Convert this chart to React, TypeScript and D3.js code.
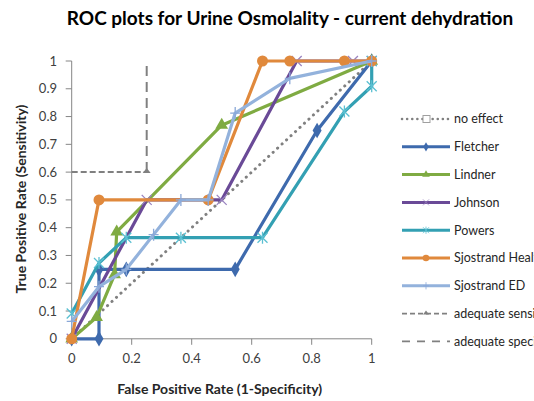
import * as d3 from 'd3';
import React from 'react';

// ROC curves: false positive rate (x) vs true positive rate (y)
const fletcherX = [0, 0.091, 0.091, 0.182, 0.545, 0.818, 1];
const fletcherY = [0, 0, 0.25, 0.25, 0.25, 0.75, 1];

const lindnerX = [0, 0.083, 0.143, 0.15, 0.5, 1];
const lindnerY = [0, 0.077, 0.231, 0.385, 0.769, 1];

const johnsonX = [0, 0.25, 0.5, 0.75, 0.9375, 1];
const johnsonY = [0, 0.5, 0.5, 1, 1, 1];

const powersX = [0, 0.091, 0.182, 0.364, 0.636, 0.909, 1, 1];
const powersY = [0.091, 0.273, 0.364, 0.364, 0.364, 0.818, 0.909, 1];

const sjHealthyX = [0, 0.091, 0.455, 0.636, 0.727, 0.909, 1];
const sjHealthyY = [0, 0.5, 0.5, 1, 1, 1, 1];

const sjEdX = [0, 0.091, 0.182, 0.273, 0.364, 0.455, 0.545, 0.727, 1];
const sjEdY = [0.0625, 0.1875, 0.25, 0.375, 0.5, 0.5, 0.8125, 0.9375, 1];

const noEffectX = [0, 1];
const noEffectY = [0, 1];

const adequateSensX = [0, 0.25];
const adequateSensY = [0.6, 0.6];
const adequateSpecX = [0.25, 0.25];
const adequateSpecY = [0.6, 1];

const ticks = [0, 0.2, 0.4, 0.6, 0.8, 1];
const yTicks = [0, 0.1, 0.2, 0.3, 0.4, 0.5, 0.6, 0.7, 0.8, 0.9, 1];

const series = [
  { name: 'Fletcher', xs: fletcherX, ys: fletcherY, color: '#3e6aad', mark: 'diamond' },
  { name: 'Lindner', xs: lindnerX, ys: lindnerY, color: '#7fab42', mark: 'triangle' },
  { name: 'Johnson', xs: johnsonX, ys: johnsonY, color: '#6a4a97', mark: 'x' },
  { name: 'Powers', xs: powersX, ys: powersY, color: '#33a0b3', mark: 'star' },
  { name: 'Sjostrand Healthy', xs: sjHealthyX, ys: sjHealthyY, color: '#e0893c', mark: 'circle' },
  { name: 'Sjostrand ED', xs: sjEdX, ys: sjEdY, color: '#93b2dc', mark: 'plus' },
];

const font = 'Lato, "Open Sans", sans-serif';
const grey = '#808080';

function Marker({ kind, color, x, y }: { kind: string; color: string; x: number; y: number }) {
  const t = `translate(${x},${y})`;
  if (kind === 'diamond') {
    return <path transform={t} d={d3.symbol().type(d3.symbolDiamond).size(70)()!} fill={color} />;
  }
  if (kind === 'triangle') {
    return <path transform={t} d={d3.symbol().type(d3.symbolTriangle).size(70)()!} fill={color} />;
  }
  if (kind === 'circle') {
    return <circle cx={x} cy={y} r={5.5} fill={color} />;
  }
  if (kind === 'x') {
    return <path transform={t} d="M-5,-5L5,5M-5,5L5,-5" stroke="#9a84c0" strokeWidth={1.3} fill="none" />;
  }
  if (kind === 'star') {
    return <path transform={t} d="M-5,-5L5,5M-5,5L5,-5M0,-6L0,6" stroke="#5bc0d2" strokeWidth={1.3} fill="none" />;
  }
  if (kind === 'plus') {
    return <path transform={t} d="M-5,0L5,0M0,-6L0,6" stroke="#8aa8d8" strokeWidth={1.3} fill="none" />;
  }
  return null;
}

export default function App() {
  const x = d3.scaleLinear().domain([0, 1]).range([71.7, 371.7]);
  const y = d3.scaleLinear().domain([0, 1]).range([338.8, 61]);
  const line = d3.line<[number, number]>().x(d => x(d[0])).y(d => y(d[1]));
  const pts = (xs: number[], ys: number[]) => xs.map((v, i) => [v, ys[i]] as [number, number]);

  const legendRows = ['no effect', ...series.map(s => s.name), 'adequate sensitivity', 'adequate specificity'];
  const legendY = (i: number) => 119 + i * 27.8;

  return (
    <div style={{ position: 'absolute', left: 0, top: 0 }}>
      <svg width={534} height={401} style={{ display: 'block', background: '#fff' }} fontFamily={font}>
        <text x={290} y={25} textAnchor="middle" fontSize={19} fontWeight="bold" fill="#000">
          ROC plots for Urine Osmolality - current dehydration
        </text>

        {/* axes */}
        <line x1={x(0)} x2={x(0)} y1={y(1)} y2={y(0)} stroke="#868686" />
        <line x1={x(0)} x2={x(1)} y1={y(0)} y2={y(0)} stroke="#868686" />
        {yTicks.map(t => (
          <g key={'y' + t}>
            <line x1={x(0) - 6} x2={x(0)} y1={y(t)} y2={y(t)} stroke="#868686" />
            <text x={57} y={y(t)} dy="0.35em" textAnchor="end" fontSize={13} fill="#404040">{t}</text>
          </g>
        ))}
        {ticks.map(t => (
          <g key={'x' + t}>
            <line x1={x(t)} x2={x(t)} y1={y(0)} y2={y(0) + 6} stroke="#868686" />
            <text x={x(t)} y={363} textAnchor="middle" fontSize={13} fill="#404040">{t}</text>
          </g>
        ))}
        <text x={x(0.5) - 2} y={394} textAnchor="middle" fontSize={14} fontWeight="bold" fill="#262626">
          False Positive Rate (1-Specificity)
        </text>
        <text transform="translate(26,199) rotate(-90)" textAnchor="middle" fontSize={14} fontWeight="bold" fill="#262626">
          True Positive Rate (Sensitivity)
        </text>

        {/* reference lines */}
        <path d={line(pts(noEffectX, noEffectY))!} stroke={grey} strokeWidth={3} strokeDasharray="0.1 6" strokeLinecap="round" fill="none" />

        {/* data */}
        {series.map(s => (
          <g key={s.name}>
            <path d={line(pts(s.xs, s.ys))!} stroke={s.color} strokeWidth={3.2} fill="none" strokeLinejoin="round" />
            {s.xs.map((v, i) => (
              <Marker key={i} kind={s.mark} color={s.color} x={x(v)} y={y(s.ys[i])} />
            ))}
          </g>
        ))}

        <path d={line(pts(adequateSensX, adequateSensY))!} stroke={grey} strokeWidth={2} strokeDasharray="6 3" fill="none" />
        <path d={line(pts(adequateSpecX, adequateSpecY))!} stroke={grey} strokeWidth={2} strokeDasharray="10 6" fill="none" />
        <path transform={`translate(${x(0.25)},${y(0.6)})`} d="M-4,1L0,-4L4,1Z" fill={grey} />

        {/* legend */}
        {legendRows.map((name, i) => {
          const ly = legendY(i);
          const s = series[i - 1];
          return (
            <g key={name}>
              {i === 0 && (
                <g>
                  <line x1={402} x2={450} y1={ly} y2={ly} stroke={grey} strokeWidth={2.5} strokeDasharray="0.1 5" strokeLinecap="round" />
                  <rect x={423} y={ly - 3.5} width={7} height={7} fill="#fff" stroke="#a0a0a0" />
                </g>
              )}
              {s && (
                <g>
                  <line x1={402} x2={450} y1={ly} y2={ly} stroke={s.color} strokeWidth={3} />
                  <g transform={`translate(${426},${ly}) scale(0.6) translate(${-426},${-ly})`}>
                    <Marker kind={s.mark} color={s.color} x={426} y={ly} />
                  </g>
                </g>
              )}
              {i === 7 && (
                <g>
                  <line x1={402} x2={450} y1={ly} y2={ly} stroke={grey} strokeWidth={1.8} strokeDasharray="5 3" />
                  <path transform={`translate(426,${ly})`} d="M-3,1L0,-3L3,1Z" fill={grey} />
                </g>
              )}
              {i === 8 && (
                <g>
                  <line x1={402} x2={450} y1={ly} y2={ly} stroke={grey} strokeWidth={1.8} strokeDasharray="8 7" />
                </g>
              )}
              <text x={454} y={ly} dy="0.35em" fontSize={12.5} fill="#262626">{name}</text>
            </g>
          );
        })}
      </svg>
    </div>
  );
}
